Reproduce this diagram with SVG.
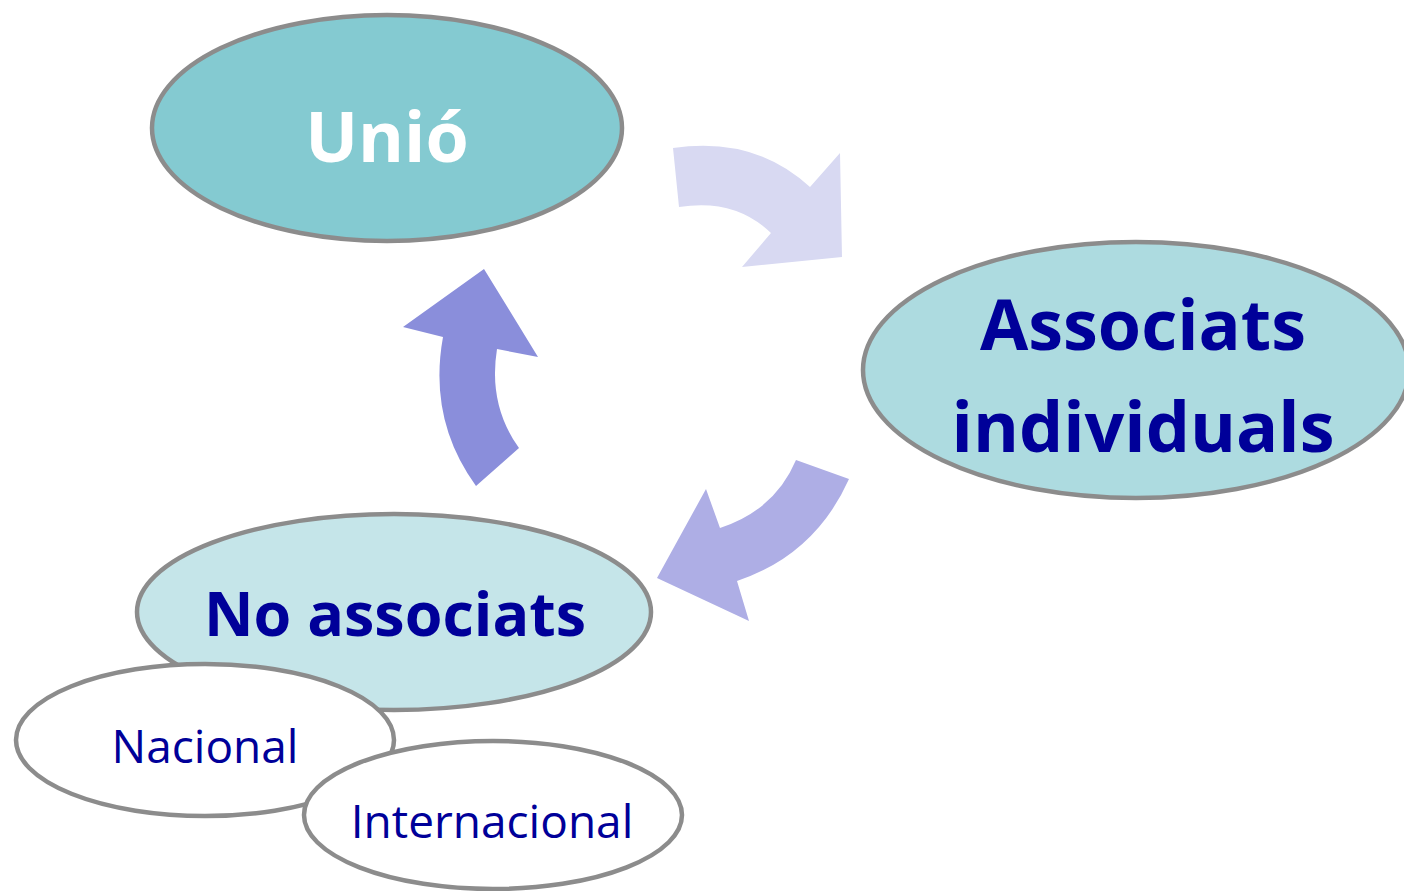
<svg xmlns="http://www.w3.org/2000/svg" width="1404" height="891" viewBox="0 0 1404 891">
<style>
.node{stroke:#8C8C8C;stroke-width:4.5}
.big{font-family:"Open Sans","DejaVu Sans",sans-serif;font-weight:bold;text-anchor:middle;fill:#000099}
.small{font-family:"Open Sans","DejaVu Sans",sans-serif;text-anchor:middle;fill:#000099;font-size:46px}
</style>
<rect width="1404" height="891" fill="#FFFFFF"/>
<g id="connectors">
<path d="M673,148 Q755,136 810,187 L840,153 L842,257 L742,267 L771,233 Q735,198 679,207 Z" fill="#D8D9F2"/>
<path d="M476,486 Q428,420 443,337 L403,327 L484,269 L538,357 L497,349 Q488,405 519,448 Z" fill="#8A8EDB"/>
<path d="M796,460 L849,479 Q815,555 737,581 L749,621 L657,578 L706,489 L720,528 Q775,510 796,460 Z" fill="#AEAEE5"/>
</g>
<g id="node-unio">
<ellipse class="node" cx="387" cy="128" rx="235" ry="113" fill="#84CAD1"/>
<text class="big" x="387" y="162" font-size="70" style="fill:#FFFFFF">Unió</text>
</g>
<g id="node-associats">
<ellipse class="node" cx="1136" cy="370" rx="273" ry="128" fill="#ADDBE0"/>
<text class="big" x="1143" y="350" font-size="70">Associats</text>
<text class="big" x="1143" y="452" font-size="70">individuals</text>
</g>
<g id="node-no-associats">
<ellipse class="node" cx="394" cy="612" rx="257" ry="98" fill="#C5E5E9"/>
<text class="big" x="395" y="636" font-size="61">No associats</text>
</g>
<g id="node-nacional">
<ellipse class="node" cx="205" cy="740" rx="189" ry="76" fill="#FFFFFF"/>
<text class="small" x="205" y="763">Nacional</text>
</g>
<g id="node-internacional">
<ellipse class="node" cx="493" cy="815" rx="189" ry="74" fill="#FFFFFF"/>
<text class="small" x="492" y="838">Internacional</text>
</g>
</svg>
